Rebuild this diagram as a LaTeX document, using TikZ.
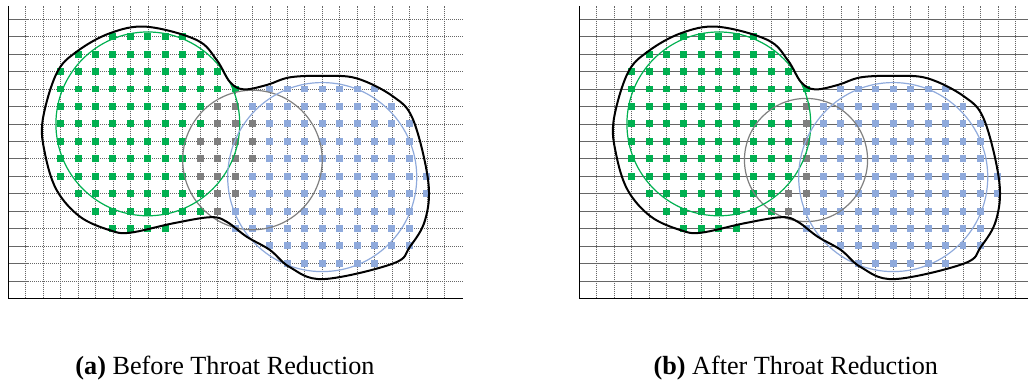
\documentclass[tikz,border=0pt]{standalone}
\usepackage{fontspec}
\setmainfont{Liberation Serif}
\definecolor{poregreen}{HTML}{00B050}
\definecolor{poreblue}{HTML}{8FAADC}
\definecolor{throatgray}{HTML}{7F7F7F}
\tikzset{
  gridline/.style={black!60, line width=0.3pt, dash pattern=on 0.6pt off 0.4pt},
  axisline/.style={black, line width=0.7pt},
  outline/.style={black, line width=1pt},
  ring/.style={line width=0.6pt},
  caption/.style={anchor=base, font=\fontsize{13.1}{15}\selectfont},
}
% squares on the grid nodes: colour, list of row/first/last
\newcommand{\sqrow}[2]{%
  \foreach \j/\a/\b in {#2}{\foreach \i in {\a,...,\b}{\fill[#1] (\i-0.2,\j-0.2) rectangle +(0.4,0.4);}}}
% grid of one panel
\newcommand{\gridbase}{%
  \foreach \i in {1,...,25} \draw[gridline] (\i,0) -- (\i,16.76);
  \foreach \j in {1,...,16} \draw[gridline] (0,\j) -- (26.1,\j);}
% black boundary, the two pore circles and the axes
\newcommand{\poreshape}{%
  \draw[ring, poregreen] (8,10) circle (5.27);
  \draw[ring, poreblue] (18,6.95) circle (5.42);
  \draw[outline] plot[smooth cycle, tension=0.6] coordinates {
    (1.97,10.2) (2.77,12.9) (3.92,14.14) (5.83,15.2) (7.94,15.57) (10.8,14.81)
    (11.95,13.66) (12.71,12.4) (13.5,11.98) (14.82,12.23) (16.15,12.67) (18.06,12.75)
    (19.98,12.61) (22.08,11.56) (23.22,10.22) (24.08,6.7) (23.9,4.49) (23.03,2.96)
    (22.08,2.0) (18.06,1.1) (16.15,1.78) (15.0,2.77) (13.67,3.53) (12.52,4.39)
    (11.6,4.65) (9.46,4.3) (6.98,3.76) (5.83,3.9) (4.11,4.68) (2.77,6.21) (2.1,8.31)};
  \draw[axisline] (0,16.76) -- (0,0) -- (26.1,0);}

\begin{document}
\begin{tikzpicture}
\useasboundingbox (0,0) rectangle (514pt,191.5pt);

% (a) before
\begin{scope}[shift={(4.15pt,42.35pt)}, x=8.72pt, y=8.72pt]
  \gridbase
  \sqrow{poregreen}{15/6/10, 14/4/11, 13/3/12, 12/3/13, 11/3/11, 10/3/11, 9/3/10,
    8/3/10, 7/3/10, 6/4/11, 5/5/11, 4/6/9}
  \sqrow{throatgray}{11/12/13, 10/12/14, 9/11/14, 8/11/14, 7/11/13, 6/12/13, 5/12/12}
  \sqrow{poreblue}{12/15/21, 11/14/22, 10/15/23, 9/15/23, 8/15/23, 7/14/24, 6/14/24,
    5/13/23, 4/13/23, 3/15/23, 2/16/21}
  \draw[ring, throatgray] (14,7.93) circle (4);
  \poreshape
\end{scope}

% (b) after
\begin{scope}[shift={(289.65pt,42.35pt)}, x=8.72pt, y=8.72pt]
  \gridbase
  \sqrow{poregreen}{15/6/10, 14/4/11, 13/3/12, 12/3/13, 11/3/12, 10/3/12, 9/3/12,
    8/3/12, 7/3/12, 6/4/11, 5/5/11, 4/6/9}
  \sqrow{throatgray}{11/13/13, 10/13/13, 9/13/13, 8/13/13, 7/13/13, 6/12/13, 5/12/12}
  \sqrow{poreblue}{12/15/21, 11/14/22, 10/14/23, 9/14/23, 8/14/23, 7/14/24, 6/14/24,
    5/13/23, 4/13/23, 3/15/23, 2/16/21}
  \draw[ring, throatgray] (13,7.93) circle (3.53);
  \poreshape
\end{scope}

\node[caption] (capA) at (112.5pt,4pt) {\textbf{(a)} Before Throat Reduction};
\node[caption] (capB) at (397.9pt,4pt) {\textbf{(b)} After Throat Reduction};
\end{tikzpicture}
\end{document}
